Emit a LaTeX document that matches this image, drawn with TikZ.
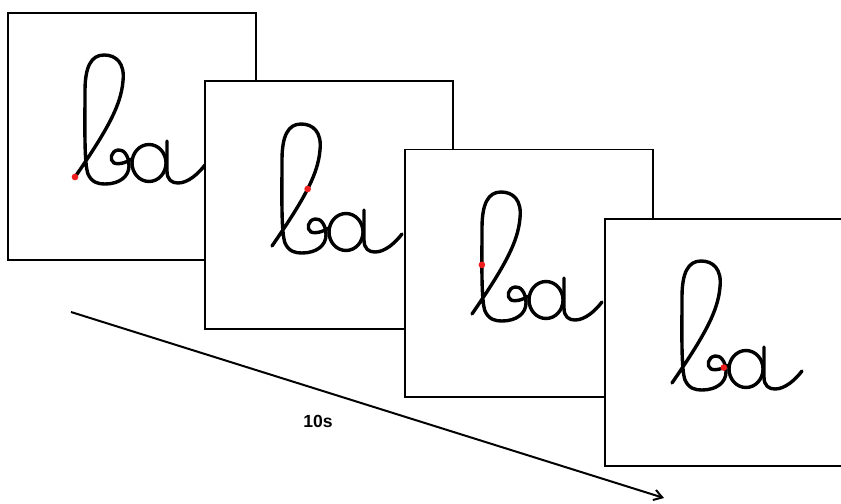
\documentclass[tikz,border=0pt]{standalone}
\usepackage{fontspec}
\setmainfont{Liberation Sans}
\usetikzlibrary{arrows.meta}
\definecolor{dotred}{RGB}{240,30,30}
\begin{document}
\begin{tikzpicture}[x=0.03cm,y=-0.03cm,
  frame/.style={draw=black,line width=1.7pt,fill=white,minimum width=7.44cm,minimum height=7.41cm,inner sep=0pt,outer sep=0pt},
  ink/.style={line width=2.9pt,line cap=round,line join=round},
  reddot/.style={fill=dotred},
  ba/.pic={
    \draw[ink] (67,164) .. controls (100,116) and (113,92) .. (115,68) coordinate[pos=0.5] (-up)
      .. controls (117,50) and (108,42) .. (96,42)
      .. controls (83,42) and (77,54) .. (77,78)
      .. controls (77,112) and (76,150) .. (80,161) coordinate[pos=0.36] (-stem)
      .. controls (84,170) and (91,171) .. (97,171)
      .. controls (112,171) and (121,163) .. (121,153)
      .. controls (121,142) and (115,136) .. (110,137)
      .. controls (103,138) and (101,147) .. (106,150)
      .. controls (110,152) and (117,150) .. (124,146) coordinate[pos=0.75] (-eye);
    \draw[ink] (141,150) ellipse [x radius=0.51cm, y radius=0.555cm];
    \draw[ink] (159,128) -- (159,158) .. controls (159,167) and (164,170) .. (170,170)
      .. controls (180,170) and (190,161) .. (197,152);
    \coordinate (-start) at (67,164);
  }]
\useasboundingbox (0,0) rectangle (841,503);
\clip (0,0) rectangle (841,503);
\fill[white] (0,0) rectangle (841,503);

\node[frame] (f1) at (132,136.5) {};
\pic (b1) at (8,13) {ba};
\fill[reddot] (b1-start) circle [radius=0.1cm];

\node[frame] (f2) at (329,205) {};
\pic (b2) at (205,82) {ba};
\fill[reddot] (b2-up) circle [radius=0.1cm];

\node[frame] (f3) at (529,273) {};
\pic (b3) at (405,150) {ba};
\fill[reddot] (b3-stem) circle [radius=0.1cm];

\node[frame] (f4) at (729,342.5) {};
\pic (b4) at (605,219) {ba};
\fill[reddot] (b4-eye) circle [radius=0.1cm];

\coordinate (as) at (71,312);
\coordinate (ae) at (664,498);
\draw[line width=1.7pt,-{Straight Barb[length=7pt,width=9pt]}] (as) -- (ae);
\node[font=\bfseries\fontsize{15}{18}\selectfont] (lbl) at (318,421) {10s};
\end{tikzpicture}
\end{document}
